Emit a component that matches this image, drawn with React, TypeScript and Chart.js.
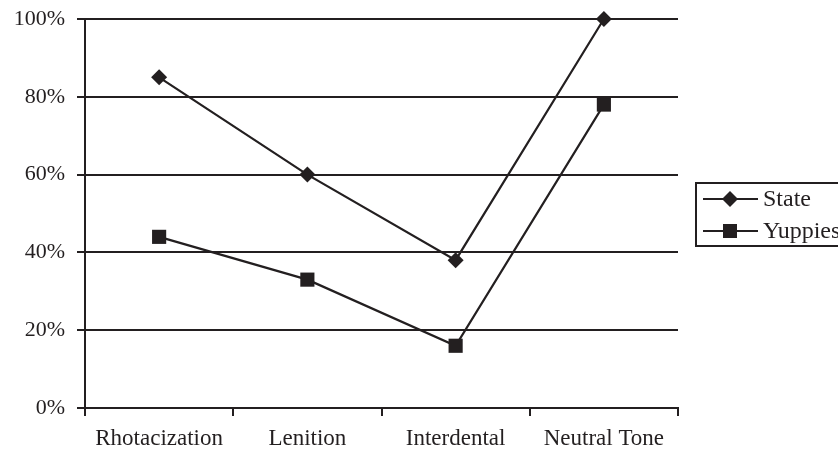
import React, { useEffect, useRef } from "react";
import { Chart, registerables } from "chart.js";

Chart.register(...registerables);

const categories = ["Rhotacization", "Lenition", "Interdental", "Neutral Tone"];
const stateValues = [85, 60, 38, 100];
const yuppiesValues = [44, 33, 16, 78];
const seriesNames = ["State", "Yuppies"];
const yTicks = [0, 20, 40, 60, 80, 100];

const INK = "#231f20";
const FONT = "'Liberation Serif', 'Times New Roman', serif";

const legendPlugin = {
  id: "customLegend",
  afterDraw(chart: any) {
    const { ctx, chartArea } = chart;
    const left = chartArea.right + 18;
    const top = 183;
    const rowH = 32;
    ctx.save();
    ctx.strokeStyle = INK;
    ctx.lineWidth = 2;
    ctx.strokeRect(left, top, 170, 63);
    seriesNames.forEach((name, i) => {
      const y = top + 16 + i * rowH;
      const cx = left + 34;
      ctx.strokeStyle = INK;
      ctx.lineWidth = 2;
      ctx.beginPath();
      ctx.moveTo(left + 7, y);
      ctx.lineTo(left + 62, y);
      ctx.stroke();
      ctx.fillStyle = INK;
      ctx.beginPath();
      if (i === 0) {
        const r = 8;
        ctx.moveTo(cx - r, y);
        ctx.lineTo(cx, y - r);
        ctx.lineTo(cx + r, y);
        ctx.lineTo(cx, y + r);
        ctx.closePath();
      } else {
        const s = 7;
        ctx.rect(cx - s, y - s, 2 * s, 2 * s);
      }
      ctx.fill();
      ctx.font = `24px ${FONT}`;
      ctx.textBaseline = "middle";
      ctx.textAlign = "left";
      ctx.fillText(name, left + 67, y + 1);
    });
    ctx.restore();
  },
};

export default function App() {
  const ref = useRef<HTMLCanvasElement | null>(null);

  useEffect(() => {
    if (!ref.current) return;
    const chart = new Chart(ref.current, {
      type: "line",
      data: {
        labels: categories,
        datasets: [
          {
            label: seriesNames[0],
            data: stateValues,
            borderColor: INK,
            backgroundColor: INK,
            borderWidth: 2.2,
            pointStyle: "rectRot",
            pointRadius: 8,
            pointBackgroundColor: INK,
            pointBorderColor: INK,
            pointBorderWidth: 0,
            tension: 0,
            clip: false,
          },
          {
            label: seriesNames[1],
            data: yuppiesValues,
            borderColor: INK,
            backgroundColor: INK,
            borderWidth: 2.2,
            pointStyle: "rect",
            pointRadius: 10,
            pointBackgroundColor: INK,
            pointBorderColor: INK,
            pointBorderWidth: 0,
            tension: 0,
            clip: false,
          },
        ],
      },
      options: {
        animation: false,
        responsive: false,
        devicePixelRatio: 1,
        layout: { padding: { top: 19, right: 160, left: 0, bottom: 0 } },
        plugins: {
          legend: { display: false },
          tooltip: { enabled: false },
        },
        scales: {
          x: {
            type: "category",
            offset: true,
            afterFit: (scale: any) => {
              scale.height = 47;
              scale.paddingLeft = 0;
              scale.paddingRight = 0;
            },
            grid: {
              offset: true,
              drawOnChartArea: false,
              drawTicks: true,
              tickLength: 8,
              color: INK,
              lineWidth: 2,
            },
            border: { display: true, color: INK, width: 2 },
            ticks: {
              color: INK,
              padding: 9,
              font: { family: FONT, size: 23 },
              maxRotation: 0,
            },
          },
          y: {
            min: 0,
            max: 100,
            afterFit: (scale: any) => {
              scale.width = 85;
              scale.paddingTop = 0;
              scale.paddingBottom = 0;
            },
            afterBuildTicks: (scale: any) => {
              scale.ticks = yTicks.map((v) => ({ value: v }));
            },
            grid: {
              color: INK,
              lineWidth: 2,
              drawTicks: true,
              tickLength: 8,
            },
            border: { display: true, color: INK, width: 2 },
            ticks: {
              color: INK,
              padding: 12,
              font: { family: FONT, size: 22 },
              callback: (v: any) => `${v}%`,
            },
          },
        },
      },
      plugins: [legendPlugin],
    });
    return () => chart.destroy();
  }, []);

  return (
    <div style={{ position: "fixed", left: 0, top: 0, width: 838, height: 455, background: "#fff" }}>
      <canvas ref={ref} width={838} height={455} style={{ display: "block", width: 838, height: 455 }} />
    </div>
  );
}
